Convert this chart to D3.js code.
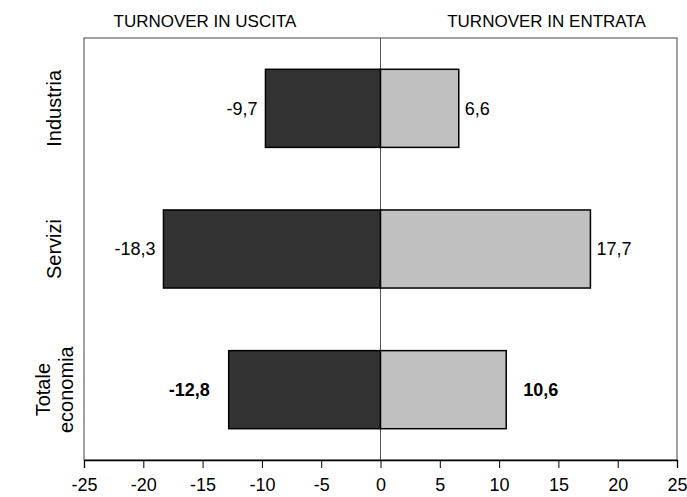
<!DOCTYPE html>
<html>
<head>
<meta charset="utf-8">
<script src="https://cdn.jsdelivr.net/npm/d3@7"></script>
<style>
  body { margin: 0; background: #fff; }
  svg text { font-family: "Liberation Sans", Arial, sans-serif; }
</style>
</head>
<body>
<div class="chart"></div>
<script>
// data
var categories = ["Industria", "Servizi", "Totale economia"];
var uscita = [-9.7, -18.3, -12.8];
var entrata = [6.6, 17.7, 10.6];
var ticks = [-25, -20, -15, -10, -5, 0, 5, 10, 15, 20, 25];
var headers = ["TURNOVER IN USCITA", "TURNOVER IN ENTRATA"];

var options = {
    width: 687,
    height: 497,
    left: 84,
    right: 677,
    top: 38,
    bottom: 460
};

var svg = d3.select(".chart").append("svg")
    .attr("width", options.width)
    .attr("height", options.height);

var xScale = d3.scaleLinear()
    .domain([-25, 25])
    .range([options.left, options.right]);

var yScale = d3.scaleBand()
    .domain(categories)
    .range([options.top, options.bottom])
    .paddingInner(0.445)
    .paddingOuter(0.2225);

var fmt = function (v) { return d3.format(".1f")(v).replace(".", ",").replace("−", "-"); };

// frame
svg.append("rect")
    .attr("x", options.left)
    .attr("y", options.top)
    .attr("width", options.right - options.left)
    .attr("height", options.bottom - options.top)
    .attr("fill", "none")
    .attr("stroke", "#444")
    .attr("stroke-width", 1);

// zero line
svg.append("line")
    .attr("x1", xScale(0)).attr("x2", xScale(0))
    .attr("y1", options.top).attr("y2", options.bottom)
    .attr("stroke", "#555")
    .attr("stroke-width", 1);

var rows = categories.map(function (c, i) {
    return { cat: c, out: uscita[i], inn: entrata[i], bold: i === categories.length - 1 };
});

// bars
svg.selectAll("rect.out").data(rows).enter().append("rect")
    .attr("class", "out")
    .attr("x", function (d) { return xScale(d.out); })
    .attr("y", function (d) { return yScale(d.cat); })
    .attr("width", function (d) { return xScale(0) - xScale(d.out); })
    .attr("height", yScale.bandwidth())
    .attr("fill", "#333333")
    .attr("stroke", "#000")
    .attr("stroke-width", 1.5);

svg.selectAll("rect.inn").data(rows).enter().append("rect")
    .attr("class", "inn")
    .attr("x", xScale(0))
    .attr("y", function (d) { return yScale(d.cat); })
    .attr("width", function (d) { return xScale(d.inn) - xScale(0); })
    .attr("height", yScale.bandwidth())
    .attr("fill", "#c0c0c0")
    .attr("stroke", "#000")
    .attr("stroke-width", 1.5);

// value labels
svg.selectAll("text.lout").data(rows).enter().append("text")
    .attr("class", "lout")
    .attr("x", function (d) { return xScale(d.out) - (d.bold ? 19 : 8); })
    .attr("y", function (d) { return yScale(d.cat) + yScale.bandwidth() / 2; })
    .attr("dy", "0.35em")
    .attr("text-anchor", "end")
    .attr("font-size", "18px")
    .attr("font-weight", function (d) { return d.bold ? "bold" : "normal"; })
    .text(function (d) { return fmt(d.out); });

svg.selectAll("text.linn").data(rows).enter().append("text")
    .attr("class", "linn")
    .attr("x", function (d) { return xScale(d.inn) + (d.bold ? 17 : 6); })
    .attr("y", function (d) { return yScale(d.cat) + yScale.bandwidth() / 2; })
    .attr("dy", "0.35em")
    .attr("text-anchor", "start")
    .attr("font-size", "18px")
    .attr("font-weight", function (d) { return d.bold ? "bold" : "normal"; })
    .text(function (d) { return fmt(d.inn); });

// x axis
var xAxis = d3.axisBottom(xScale)
    .tickValues(ticks)
    .tickSize(8)
    .tickPadding(10)
    .tickFormat(function (d) { return String(d); });

var gx = svg.append("g")
    .attr("transform", "translate(0," + options.bottom + ")")
    .call(xAxis);
gx.select(".domain").attr("stroke", "#000").attr("stroke-width", 1.3);
gx.selectAll(".tick line").attr("stroke", "#000");
gx.selectAll(".tick text")
    .attr("font-family", "Liberation Sans, Arial, sans-serif")
    .attr("font-size", "18px")
    .attr("fill", "#000");

// category labels (rotated)
categories.forEach(function (c) {
    var cy = yScale(c) + yScale.bandwidth() / 2;
    var words = c === "Totale economia" ? ["Totale", "economia"] : [c];
    var t = svg.append("text")
        .attr("transform", "translate(54," + cy + ") rotate(-90)")
        .attr("text-anchor", "middle")
        .attr("font-size", "20px");
    words.forEach(function (w, i) {
        t.append("tspan")
            .attr("x", 0)
            .attr("y", (i - (words.length - 1) / 2) * 23)
            .attr("dy", "0.35em")
            .text(w);
    });
});

// headers
svg.selectAll("text.head").data(headers).enter().append("text")
    .attr("class", "head")
    .attr("x", function (d, i) { return i === 0 ? xScale(-14.8) : xScale(14); })
    .attr("y", 27)
    .attr("text-anchor", "middle")
    .attr("font-size", "17px")
    .text(function (d) { return d; });
</script>
</body>
</html>
